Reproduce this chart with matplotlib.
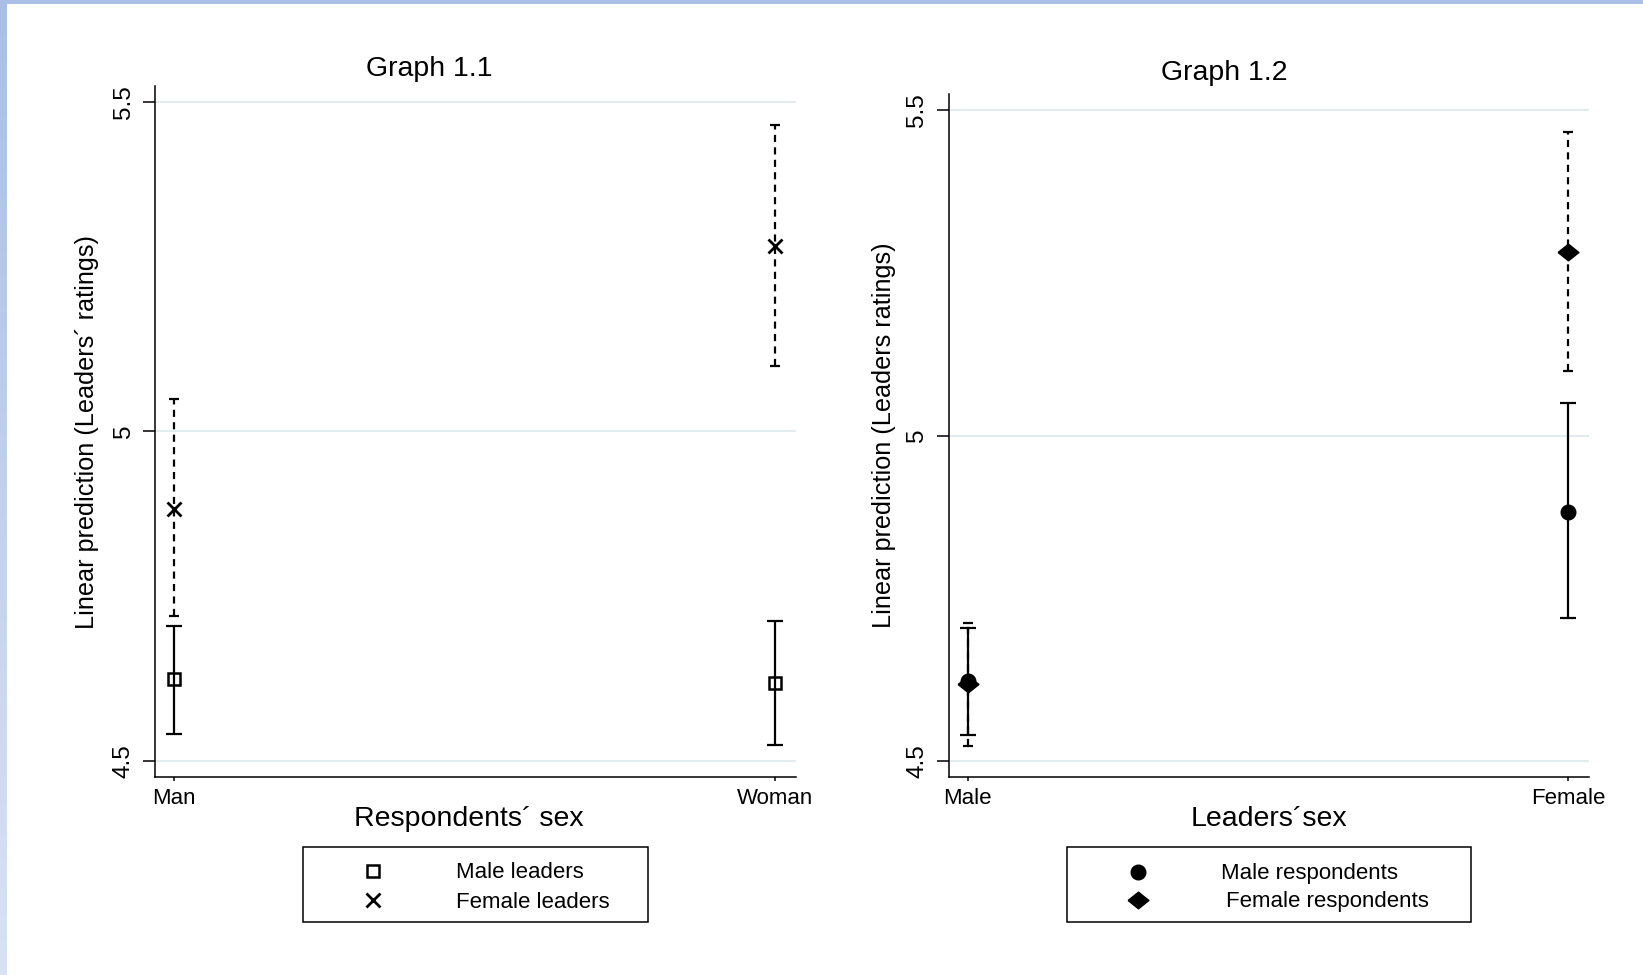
import numpy as np
import matplotlib.pyplot as plt
from matplotlib.lines import Line2D
from matplotlib.patches import Rectangle
from matplotlib.colors import LinearSegmentedColormap

plt.rcParams['font.family'] = ['Liberation Sans', 'DejaVu Sans']

# Graph 1.1: linear prediction by respondents' sex
resp_sex = ['Man', 'Woman']
male_leaders = [4.624, 4.618]
male_leaders_lo = [4.541, 4.524]
male_leaders_hi = [4.705, 4.712]
female_leaders = [4.883, 5.282]
female_leaders_lo = [4.720, 5.099]
female_leaders_hi = [5.050, 5.465]

# Graph 1.2: same estimates grouped by leaders' sex
leader_sex = ['Male', 'Female']
male_resp = [4.624, 4.883]
male_resp_lo = [4.541, 4.720]
male_resp_hi = [4.705, 5.050]
female_resp = [4.618, 5.282]
female_resp_lo = [4.524, 5.099]
female_resp_hi = [4.712, 5.465]

yticks = [4.5, 5, 5.5]
ytick_labels = ['4.5', '5', '5.5']

W, H = 1643, 975
grid_col = '#e3ebee'
dash = (0, (3.2, 2.4))
# wide diamond, like the stretched Stata one
diamond = [(-1, 0), (0, 0.8), (1, 0), (0, -0.8), (-1, 0)]


def fx(px):
    return px / W


def fy(py):
    return 1 - py / H


def ci_plot(ax, est, lo, hi, marker, ms, dashed=False, **mkw):
    x = np.arange(len(est))
    est = np.array(est)
    err = [est - np.array(lo), np.array(hi) - est]
    eb = ax.errorbar(x, est, yerr=err, fmt='none', ecolor='black',
                     elinewidth=1.6, capthick=1.6,
                     capsize=3.8 if dashed else 5.5, zorder=3)
    if dashed:
        eb[2][0].set_linestyle(dash)
    ax.plot(x, est, ls='none', marker=marker, ms=ms, color='black',
            zorder=4, **mkw)


def style_axes(ax, cats, xlabel, ylabel, ylab_x, xlab_x, xlab_y):
    ax.set_xlim(-0.032, 1.035)
    ax.set_ylim(4.476, 5.524)
    ax.set_yticks(yticks)
    ax.set_yticklabels(ytick_labels)
    ax.set_xticks(range(len(cats)))
    ax.set_xticklabels(cats)
    ax.grid(axis='y', color=grid_col, lw=1.5)
    ax.set_axisbelow(True)
    for s in ['top', 'right']:
        ax.spines[s].set_visible(False)
    for s in ['left', 'bottom']:
        ax.spines[s].set_linewidth(1.1)
    ax.tick_params(axis='y', labelrotation=90, length=8.4, width=1.1,
                   pad=6, labelsize=17.5)
    ax.tick_params(axis='x', length=3, width=1.1, pad=5, labelsize=16)
    for t in ax.get_yticklabels():
        t.set_va('center')
    ax.set_xlabel(xlabel, fontsize=20.5, va='baseline')
    ax.xaxis.set_label_coords(xlab_x, xlab_y)
    ax.set_ylabel(ylabel, fontsize=18.2, va='baseline')
    ax.yaxis.set_label_coords(ylab_x, 0.5)


fig = plt.figure(figsize=(W / 100, H / 100), dpi=100)

# left panel
ax1 = fig.add_axes([fx(155), fy(777), fx(641), 691 / H])
ci_plot(ax1, male_leaders, male_leaders_lo, male_leaders_hi, 's', 8.5,
        mfc='none', mew=1.8)
ci_plot(ax1, female_leaders, female_leaders_lo, female_leaders_hi, 'x', 9.5,
        dashed=True, mew=2)
style_axes(ax1, resp_sex, 'Respondents\u00b4 sex',
           'Linear prediction (Leaders\u00b4 ratings)', -0.095,
           0.49, -0.071)

# right panel
ax2 = fig.add_axes([fx(948.5), fy(777), fx(640.5), 683 / H])
ci_plot(ax2, male_resp, male_resp_lo, male_resp_hi, 'o', 10.5)
ci_plot(ax2, female_resp, female_resp_lo, female_resp_hi, diamond, 15,
        dashed=True)
style_axes(ax2, leader_sex, 'Leaders\u00b4sex',
           'Linear prediction (Leaders ratings)', -0.089,
           0.5, -0.072)

fig.text(fx(429), fy(76), 'Graph 1.1', fontsize=20.5, ha='center', va='baseline')
fig.text(fx(1224), fy(80), 'Graph 1.2', fontsize=20.5, ha='center', va='baseline')


# legends drawn as boxes below each panel
def legend_box(x0, y0, x1, y1, mx, entries):
    fig.add_artist(Rectangle((fx(x0), fy(y1)), fx(x1 - x0), (y1 - y0) / H,
                             transform=fig.transFigure, fill=False,
                             edgecolor='black', lw=1.1))
    for (ty, tx, label, mkw) in entries:
        fig.add_artist(Line2D([fx(mx)], [fy(ty)], transform=fig.transFigure,
                              ls='none', color='black', **mkw))
        fig.text(fx(tx), fy(ty + 2), label, fontsize=16, va='center', ha='left')


legend_box(303, 847, 648, 922, 373, [
    (871, 456, 'Male leaders', dict(marker='s', ms=8.5, mfc='none', mew=1.8)),
    (900, 456, 'Female leaders', dict(marker='x', ms=9.5, mew=2)),
])
legend_box(1067, 847, 1471, 922, 1138, [
    (872, 1221, 'Male respondents', dict(marker='o', ms=10.5)),
    (900, 1226, 'Female respondents', dict(marker=diamond, ms=15)),
])

# light blue frame at top and left edge
fig.add_artist(Rectangle((0, fy(4)), 1, 4 / H, transform=fig.transFigure,
                         color='#a9bfe6', lw=0))
edge = fig.add_axes([0, 0, fx(7), 1])
cmap = LinearSegmentedColormap.from_list('edge', ['#a9bfe6', '#d8e2f4'])
edge.imshow(np.linspace(0, 1, 200).reshape(-1, 1), cmap=cmap, aspect='auto')
edge.axis('off')

fig.savefig('out.png', dpi=100)
